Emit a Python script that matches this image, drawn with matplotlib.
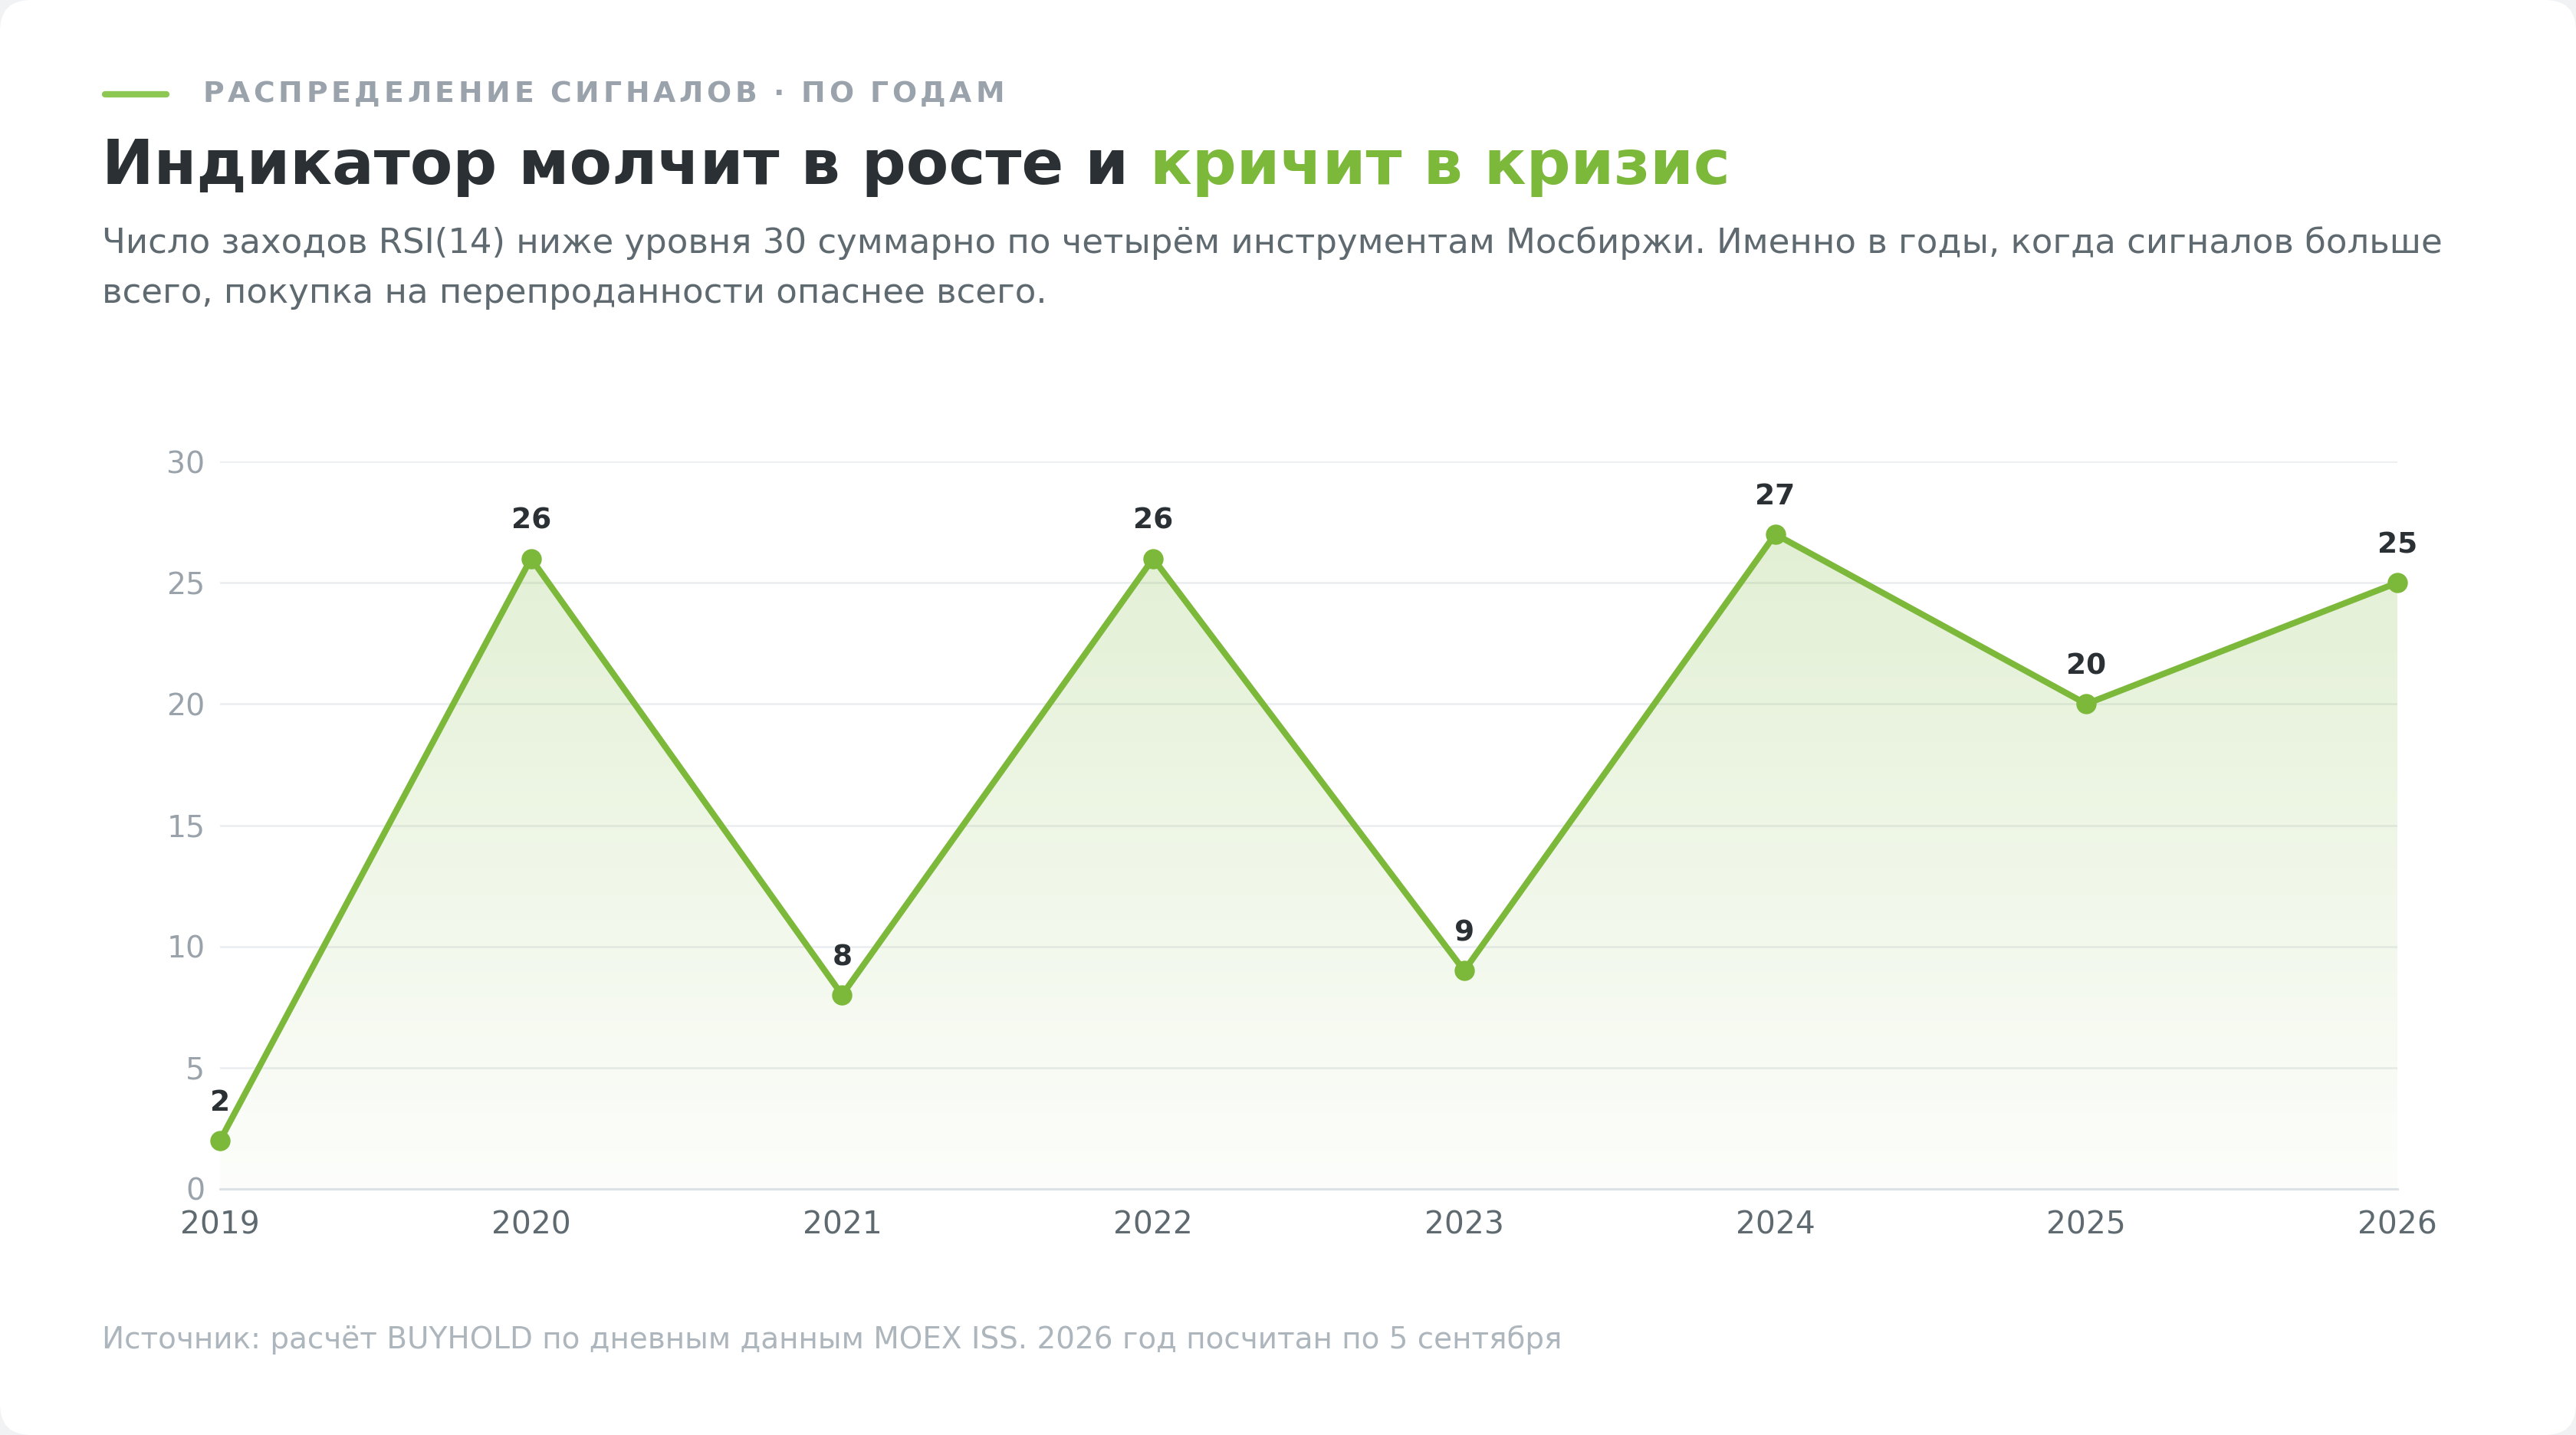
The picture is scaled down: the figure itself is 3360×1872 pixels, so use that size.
import matplotlib
matplotlib.use("Agg")
import matplotlib.pyplot as plt
import numpy as np
from matplotlib.patches import FancyBboxPatch, Polygon
from matplotlib.lines import Line2D

plt.rcParams['font.family'] = ['DejaVu Sans']

# ---- data ----
years = [2019, 2020, 2021, 2022, 2023, 2024, 2025, 2026]
signals = [2, 26, 8, 26, 9, 27, 20, 25]
y_ticks = [0, 5, 10, 15, 20, 25, 30]

kicker = "РАСПРЕДЕЛЕНИЕ СИГНАЛОВ · ПО ГОДАМ"
title_dark = "Индикатор молчит в росте и "
title_green = "кричит в кризис"
subtitle_lines = [
    "Число заходов RSI(14) ниже уровня 30 суммарно по четырём инструментам Мосбиржи. Именно в годы, когда сигналов больше",
    "всего, покупка на перепроданности опаснее всего.",
]
source = "Источник: расчёт BUYHOLD по дневным данным MOEX ISS. 2026 год посчитан по 5 сентября"

# ---- style ----
GREEN = "#7cb83a"
DASH_GREEN = "#8dc853"
DARK = "#2a3033"
SUB = "#5e6a70"
MUTED = "#9aa3ab"
SRC = "#adb6bd"
GRID = "#eaedf0"

W, H, DPI = 3360, 1872, 200
fig = plt.figure(figsize=(W / DPI, H / DPI), dpi=DPI)
fig.patch.set_facecolor("#f1f2f4")

card = FancyBboxPatch((0, 0), 1, 1, boxstyle="round,pad=0,rounding_size=0.012",
                      transform=fig.transFigure, facecolor="white", edgecolor="none",
                      mutation_aspect=W / H, zorder=-5)
fig.patches.append(card)

def fx(px):
    return px / W

def fy(py):
    return 1 - py / H

# header
fig.add_artist(Line2D([fx(137), fx(217)], [fy(123), fy(123)], color=DASH_GREEN,
                      lw=3.0, solid_capstyle="round", transform=fig.transFigure))

renderer = fig.canvas.get_renderer()

def spaced_text(x_px, y_px, s, spacing_px, **kw):
    x = x_px
    for ch in s:
        t = fig.text(fx(x), fy(y_px), ch, ha="left", va="center", **kw)
        bb = t.get_window_extent(renderer=renderer)
        if ch == " ":
            w = t.get_fontsize() * DPI / 72 * 0.32
        else:
            w = bb.width
        x += w + spacing_px

spaced_text(264, 123, kicker, 4.7, fontsize=13.6, fontweight="bold", color=MUTED)

t1 = fig.text(fx(133), fy(218), title_dark, ha="left", va="center",
              fontsize=29.1, fontweight="bold", color=DARK)
bb = t1.get_window_extent(renderer=renderer)
fig.text(fx(133) + bb.width / W, fy(218), title_green, ha="left", va="center",
         fontsize=29.1, fontweight="bold", color=GREEN)

for i, line in enumerate(subtitle_lines):
    fig.text(fx(133), fy(317 + i * 66), line, ha="left", va="center",
             fontsize=16.2, color=SUB)

fig.text(fx(133), fy(1748), source, ha="left", va="center", fontsize=14.0, color=SRC)

# ---- chart ----
left, right = 287, 3127
top, bottom = 602, 1551
ax = fig.add_axes([fx(left), fy(bottom), fx(right) - fx(left), (bottom - top) / H])
ax.set_facecolor("none")
ax.set_xlim(years[0], years[-1])
ax.set_ylim(0, 30)

for s in ["top", "right", "left"]:
    ax.spines[s].set_visible(False)
ax.spines["bottom"].set_color("#dce2e6")
ax.spines["bottom"].set_linewidth(1.1)

ax.set_yticks(y_ticks)
ax.set_xticks(years)
ax.set_xticklabels([str(y) for y in years])
ax.tick_params(axis="both", length=0)
ax.tick_params(axis="y", pad=7, labelsize=14.2, labelcolor=MUTED)
ax.tick_params(axis="x", pad=10, labelsize=14.7, labelcolor=SUB)
ax.grid(axis="y", color=GRID, lw=0.9)
ax.set_axisbelow(True)

# gradient fill under line
grad = np.linspace(0, 1, 256)
rgb = np.array(matplotlib.colors.to_rgb(GREEN))
img = np.zeros((256, 1, 4))
img[..., :3] = rgb
img[:, 0, 3] = 0.02 + 0.2 * grad
ymax_fill = max(signals)
im = ax.imshow(img, extent=[years[0], years[-1], 0, ymax_fill], origin="lower",
               aspect="auto", zorder=1)
verts = [(years[0], 0)] + list(zip(years, signals)) + [(years[-1], 0)]
poly = Polygon(verts, closed=True, facecolor="none", edgecolor="none",
               transform=ax.transData)
ax.add_patch(poly)
im.set_clip_path(poly)
ax.set_xlim(years[0], years[-1])
ax.set_ylim(0, 30)

ax.plot(years, signals, color=GREEN, lw=2.9, zorder=3, clip_on=False,
        marker="o", markersize=8.5, markerfacecolor=GREEN, markeredgecolor=GREEN)

for x, y in zip(years, signals):
    ax.annotate(str(y), (x, y), xytext=(0, 17.5), textcoords="offset points",
                ha="center", va="center", fontsize=13.5, fontweight="bold",
                color=DARK, zorder=4, annotation_clip=False)

fig.savefig("out.png", dpi=DPI, facecolor=fig.get_facecolor())
